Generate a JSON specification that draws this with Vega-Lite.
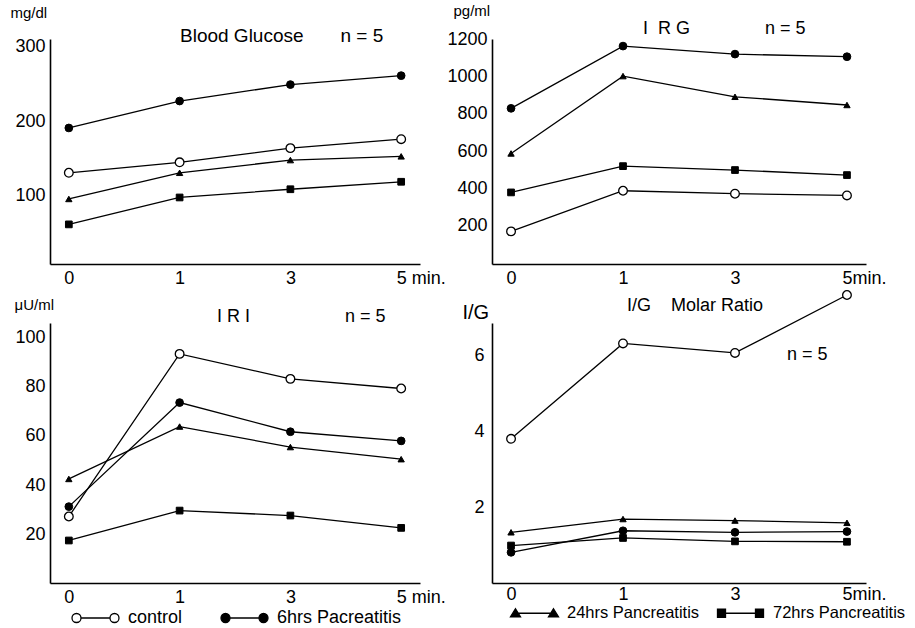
{
  "$schema": "https://vega.github.io/schema/vega-lite/v6.json",
  "background": "white",
  "padding": {"left": 10, "top": 3, "right": 5, "bottom": 5},
  "config": {
    "font": "Liberation Sans",
    "view": {"stroke": null},
    "axis": {"domainColor": "black", "domainWidth": 1.6, "ticks": false, "grid": false, "labelColor": "black", "labelFontSize": 18, "labelFont": "Liberation Sans", "titleFont": "Liberation Sans", "titleFontWeight": "normal", "titleColor": "black", "labelFlush": false, "labelOverlap": false},
    "title": {"font": "Liberation Sans", "fontWeight": "normal", "color": "black", "fontSize": 18, "anchor": "start", "frame": "group", "baseline": "alphabetic", "subtitleFont": "Liberation Sans", "subtitleFontSize": 18, "subtitleColor": "black"},
    "legend": {"labelFont": "Liberation Sans", "labelFontSize": 18, "labelColor": "black", "symbolSize": 400, "symbolStrokeColor": "black", "symbolStrokeWidth": 1.3, "labelLimit": 300, "title": null}
  },
  "datasets": {
    "d": [
      {"panel": "glucose", "series": "control", "time": "0", "value": 131},
      {"panel": "glucose", "series": "control", "time": "1", "value": 145},
      {"panel": "glucose", "series": "control", "time": "3", "value": 164},
      {"panel": "glucose", "series": "control", "time": "5", "value": 176},
      {"panel": "glucose", "series": "6hrs Pacreatitis", "time": "0", "value": 191},
      {"panel": "glucose", "series": "6hrs Pacreatitis", "time": "1", "value": 227},
      {"panel": "glucose", "series": "6hrs Pacreatitis", "time": "3", "value": 249},
      {"panel": "glucose", "series": "6hrs Pacreatitis", "time": "5", "value": 261},
      {"panel": "glucose", "series": "24hrs Pancreatitis", "time": "0", "value": 96},
      {"panel": "glucose", "series": "24hrs Pancreatitis", "time": "1", "value": 131},
      {"panel": "glucose", "series": "24hrs Pancreatitis", "time": "3", "value": 148},
      {"panel": "glucose", "series": "24hrs Pancreatitis", "time": "5", "value": 153},
      {"panel": "glucose", "series": "72hrs Pancreatitis", "time": "0", "value": 62},
      {"panel": "glucose", "series": "72hrs Pancreatitis", "time": "1", "value": 98},
      {"panel": "glucose", "series": "72hrs Pancreatitis", "time": "3", "value": 109},
      {"panel": "glucose", "series": "72hrs Pancreatitis", "time": "5", "value": 119},
      {"panel": "IRG", "series": "control", "time": "0", "value": 170},
      {"panel": "IRG", "series": "control", "time": "1", "value": 388},
      {"panel": "IRG", "series": "control", "time": "3", "value": 372},
      {"panel": "IRG", "series": "control", "time": "5", "value": 363},
      {"panel": "IRG", "series": "6hrs Pacreatitis", "time": "0", "value": 830},
      {"panel": "IRG", "series": "6hrs Pacreatitis", "time": "1", "value": 1164},
      {"panel": "IRG", "series": "6hrs Pacreatitis", "time": "3", "value": 1121},
      {"panel": "IRG", "series": "6hrs Pacreatitis", "time": "5", "value": 1107},
      {"panel": "IRG", "series": "24hrs Pancreatitis", "time": "0", "value": 588},
      {"panel": "IRG", "series": "24hrs Pancreatitis", "time": "1", "value": 1003},
      {"panel": "IRG", "series": "24hrs Pancreatitis", "time": "3", "value": 892},
      {"panel": "IRG", "series": "24hrs Pancreatitis", "time": "5", "value": 848},
      {"panel": "IRG", "series": "72hrs Pancreatitis", "time": "0", "value": 379},
      {"panel": "IRG", "series": "72hrs Pancreatitis", "time": "1", "value": 520},
      {"panel": "IRG", "series": "72hrs Pancreatitis", "time": "3", "value": 499},
      {"panel": "IRG", "series": "72hrs Pancreatitis", "time": "5", "value": 472},
      {"panel": "IRI", "series": "control", "time": "0", "value": 27.4},
      {"panel": "IRI", "series": "control", "time": "1", "value": 93.2},
      {"panel": "IRI", "series": "control", "time": "3", "value": 83.1},
      {"panel": "IRI", "series": "control", "time": "5", "value": 79.2},
      {"panel": "IRI", "series": "6hrs Pacreatitis", "time": "0", "value": 31.4},
      {"panel": "IRI", "series": "6hrs Pacreatitis", "time": "1", "value": 73.5},
      {"panel": "IRI", "series": "6hrs Pacreatitis", "time": "3", "value": 61.7},
      {"panel": "IRI", "series": "6hrs Pacreatitis", "time": "5", "value": 58.0},
      {"panel": "IRI", "series": "24hrs Pancreatitis", "time": "0", "value": 42.6},
      {"panel": "IRI", "series": "24hrs Pancreatitis", "time": "1", "value": 63.8},
      {"panel": "IRI", "series": "24hrs Pancreatitis", "time": "3", "value": 55.5},
      {"panel": "IRI", "series": "24hrs Pancreatitis", "time": "5", "value": 50.6},
      {"panel": "IRI", "series": "72hrs Pancreatitis", "time": "0", "value": 17.7},
      {"panel": "IRI", "series": "72hrs Pancreatitis", "time": "1", "value": 29.8},
      {"panel": "IRI", "series": "72hrs Pancreatitis", "time": "3", "value": 27.8},
      {"panel": "IRI", "series": "72hrs Pancreatitis", "time": "5", "value": 22.8},
      {"panel": "IG", "series": "control", "time": "0", "value": 3.81},
      {"panel": "IG", "series": "control", "time": "1", "value": 6.33},
      {"panel": "IG", "series": "control", "time": "3", "value": 6.08},
      {"panel": "IG", "series": "control", "time": "5", "value": 7.61},
      {"panel": "IG", "series": "6hrs Pacreatitis", "time": "0", "value": 0.81},
      {"panel": "IG", "series": "6hrs Pacreatitis", "time": "1", "value": 1.38},
      {"panel": "IG", "series": "6hrs Pacreatitis", "time": "3", "value": 1.34},
      {"panel": "IG", "series": "6hrs Pacreatitis", "time": "5", "value": 1.36},
      {"panel": "IG", "series": "24hrs Pancreatitis", "time": "0", "value": 1.34},
      {"panel": "IG", "series": "24hrs Pancreatitis", "time": "1", "value": 1.69},
      {"panel": "IG", "series": "24hrs Pancreatitis", "time": "3", "value": 1.65},
      {"panel": "IG", "series": "24hrs Pancreatitis", "time": "5", "value": 1.59},
      {"panel": "IG", "series": "72hrs Pancreatitis", "time": "0", "value": 0.99},
      {"panel": "IG", "series": "72hrs Pancreatitis", "time": "1", "value": 1.19},
      {"panel": "IG", "series": "72hrs Pancreatitis", "time": "3", "value": 1.10},
      {"panel": "IG", "series": "72hrs Pancreatitis", "time": "5", "value": 1.09}
    ]
  },
  "columns": 2,
  "spacing": {"row": 59, "column": 72},
  "bounds": "flush",
  "resolve": {"scale": {"shape": "independent", "fill": "independent", "stroke": "independent"}, "legend": {"shape": "independent", "fill": "independent", "stroke": "independent"}},
  "concat": [
    {
      "width": 370, "height": 225,
      "data": {"name": "d"},
      "transform": [{"filter": "datum.panel == 'glucose'"}],
      "title": {"text": "Blood Glucose\u00a0\u00a0\u00a0\u00a0\u00a0\u00a0\u00a0n = 5", "fontSize": 19, "dx": 130, "offset": -40.7},
      "encoding": {
        "x": {"field": "time", "type": "ordinal", "scale": {"type": "point", "domain": ["0", "1", "3", "5"], "padding": 0.17},
          "axis": {"title": null, "labelAngle": 0, "labelPadding": 5, "labelExpr": "datum.value == '5' ? '5 min.' : datum.label", "labelAlign": {"condition": {"test": "datum.value == '5'", "value": "left"}, "value": "center"}, "labelOffset": {"condition": {"test": "datum.value == '5'", "value": -5}, "value": 0}}},
        "y": {"field": "value", "type": "quantitative", "scale": {"domain": [9, 310], "zero": false, "nice": false},
          "axis": {"values": [100, 200, 300], "format": "d", "title": "mg/dl", "titleAngle": 0, "titleAlign": "left", "titleBaseline": "top", "titleX": -40, "titleY": -34, "titleFontSize": 15, "labelPadding": 5}}
      },
      "layer": [
        {"mark": {"type": "line", "color": "black", "strokeWidth": 1.3}, "encoding": {"detail": {"field": "series"}}},
        {"transform": [{"filter": "datum.series == 'control'"}], "mark": {"type": "point", "shape": "circle", "filled": true, "fill": "white", "stroke": "black", "strokeWidth": 1.3, "size": 75, "opacity": 1}},
        {"transform": [{"filter": "datum.series == '6hrs Pacreatitis'"}], "mark": {"type": "point", "shape": "circle", "filled": true, "fill": "black", "stroke": "black", "strokeWidth": 1, "size": 60, "opacity": 1}},
        {"transform": [{"filter": "datum.series == '24hrs Pancreatitis'"}], "mark": {"type": "point", "shape": "triangle-up", "filled": true, "fill": "black", "stroke": "black", "strokeWidth": 1, "size": 40, "opacity": 1}},
        {"transform": [{"filter": "datum.series == '72hrs Pancreatitis'"}], "mark": {"type": "point", "shape": "square", "filled": true, "fill": "black", "stroke": "black", "strokeWidth": 1, "size": 45, "opacity": 1}}
      ]
    },
    {
      "width": 374, "height": 225,
      "data": {"name": "d"},
      "transform": [{"filter": "datum.panel == 'IRG'"}],
      "title": {"text": "I\u00a0\u00a0R\u00a0G\u00a0\u00a0\u00a0\u00a0\u00a0\u00a0\u00a0\u00a0\u00a0\u00a0\u00a0\u00a0\u00a0\u00a0\u00a0n = 5", "dx": 151, "offset": -35.3},
      "encoding": {
        "x": {"field": "time", "type": "ordinal", "scale": {"type": "point", "domain": ["0", "1", "3", "5"], "padding": 0.17},
          "axis": {"title": null, "labelAngle": 0, "labelPadding": 5, "labelExpr": "datum.value == '5' ? '5min.' : datum.label", "labelAlign": {"condition": {"test": "datum.value == '5'", "value": "left"}, "value": "center"}, "labelOffset": {"condition": {"test": "datum.value == '5'", "value": -5}, "value": 0}}},
        "y": {"field": "value", "type": "quantitative", "scale": {"domain": [-5, 1202], "zero": false, "nice": false},
          "axis": {"values": [200, 400, 600, 800, 1000, 1200], "format": "d", "title": "pg/ml", "titleAngle": 0, "titleAlign": "left", "titleBaseline": "top", "titleX": -39, "titleY": -36, "titleFontSize": 15, "labelPadding": 5}}
      },
      "layer": [
        {"mark": {"type": "line", "color": "black", "strokeWidth": 1.3}, "encoding": {"detail": {"field": "series"}}},
        {"transform": [{"filter": "datum.series == 'control'"}], "mark": {"type": "point", "shape": "circle", "filled": true, "fill": "white", "stroke": "black", "strokeWidth": 1.3, "size": 75, "opacity": 1}},
        {"transform": [{"filter": "datum.series == '6hrs Pacreatitis'"}], "mark": {"type": "point", "shape": "circle", "filled": true, "fill": "black", "stroke": "black", "strokeWidth": 1, "size": 60, "opacity": 1}},
        {"transform": [{"filter": "datum.series == '24hrs Pancreatitis'"}], "mark": {"type": "point", "shape": "triangle-up", "filled": true, "fill": "black", "stroke": "black", "strokeWidth": 1, "size": 40, "opacity": 1}},
        {"transform": [{"filter": "datum.series == '72hrs Pancreatitis'"}], "mark": {"type": "point", "shape": "square", "filled": true, "fill": "black", "stroke": "black", "strokeWidth": 1, "size": 45, "opacity": 1}}
      ]
    },
    {
      "width": 370, "height": 260,
      "data": {"name": "d"},
      "transform": [{"filter": "datum.panel == 'IRI'"}],
      "title": {"text": "I\u00a0R\u00a0I\u00a0\u00a0\u00a0\u00a0\u00a0\u00a0\u00a0\u00a0\u00a0\u00a0\u00a0\u00a0\u00a0\u00a0\u00a0\u00a0\u00a0\u00a0\u00a0n = 5", "dx": 167, "offset": -28.7},
      "encoding": {
        "x": {"field": "time", "type": "ordinal", "scale": {"type": "point", "domain": ["0", "1", "3", "5"], "padding": 0.17},
          "axis": {"title": null, "labelAngle": 0, "labelPadding": 5, "labelExpr": "datum.value == '5' ? '5 min.' : datum.label", "labelAlign": {"condition": {"test": "datum.value == '5'", "value": "left"}, "value": "center"}, "labelOffset": {"condition": {"test": "datum.value == '5'", "value": -5}, "value": 0}}},
        "y": {"field": "value", "type": "quantitative", "scale": {"domain": [0.5, 105.7], "zero": false, "nice": false},
          "axis": {"values": [20, 40, 60, 80, 100], "title": "μU/ml", "titleAngle": 0, "titleAlign": "left", "titleBaseline": "top", "titleX": -36, "titleY": -26, "titleFontSize": 15, "labelPadding": 5}}
      },
      "layer": [
        {"mark": {"type": "line", "color": "black", "strokeWidth": 1.3}, "encoding": {"detail": {"field": "series"}}},
        {"transform": [{"filter": "datum.series == 'control'"}], "mark": {"type": "point", "shape": "circle", "filled": true, "fill": "white", "stroke": "black", "strokeWidth": 1.3, "size": 75, "opacity": 1}},
        {"transform": [{"filter": "datum.series == '6hrs Pacreatitis'"}], "mark": {"type": "point", "shape": "circle", "filled": true, "fill": "black", "stroke": "black", "strokeWidth": 1, "size": 60, "opacity": 1}},
        {"transform": [{"filter": "datum.series == '24hrs Pancreatitis'"}], "mark": {"type": "point", "shape": "triangle-up", "filled": true, "fill": "black", "stroke": "black", "strokeWidth": 1, "size": 40, "opacity": 1}},
        {"transform": [{"filter": "datum.series == '72hrs Pancreatitis'"}], "mark": {"type": "point", "shape": "square", "filled": true, "fill": "black", "stroke": "black", "strokeWidth": 1, "size": 45, "opacity": 1}},
        {"transform": [{"filter": "datum.series == 'legend only'"}],
         "mark": {"type": "point", "filled": true, "opacity": 1, "strokeWidth": 1.3},
         "encoding": {
           "shape": {"field": "series", "type": "nominal", "scale": {"domain": ["control", "6hrs Pacreatitis"], "range": ["M-0.1,0L2.8,0M-1,0a0.45,0.45 0 1,0 0.9,0a0.45,0.45 0 1,0 -0.9,0M2.8,0a0.45,0.45 0 1,0 0.9,0a0.45,0.45 0 1,0 -0.9,0", "M-0.1,0L2.8,0M-1,0a0.45,0.45 0 1,0 0.9,0a0.45,0.45 0 1,0 -0.9,0M2.8,0a0.45,0.45 0 1,0 0.9,0a0.45,0.45 0 1,0 -0.9,0"]},
             "legend": {"orient": "none", "direction": "horizontal", "legendX": 21, "legendY": 284, "labelOffset": 35, "columnPadding": 35, "symbolStrokeWidth": 1.3}},
           "fill": {"field": "series", "type": "nominal", "scale": {"domain": ["control", "6hrs Pacreatitis"], "range": ["white", "black"]},
             "legend": {"orient": "none", "direction": "horizontal", "legendX": 21, "legendY": 284, "labelOffset": 35, "columnPadding": 35, "symbolStrokeWidth": 1.3}},
           "stroke": {"field": "series", "type": "nominal", "scale": {"domain": ["control", "6hrs Pacreatitis"], "range": ["black", "black"]},
             "legend": {"orient": "none", "direction": "horizontal", "legendX": 21, "legendY": 284, "labelOffset": 35, "columnPadding": 35, "symbolStrokeWidth": 1.3}}
         }}
      ]
    },
    {
      "width": 374, "height": 260,
      "data": {"name": "d"},
      "transform": [{"filter": "datum.panel == 'IG'"}],
      "title": {"text": "I/G\u00a0\u00a0\u00a0\u00a0Molar Ratio", "subtitle": "\u200b\u00a0\u00a0\u00a0\u00a0\u00a0\u00a0\u00a0\u00a0\u00a0\u00a0\u00a0\u00a0\u00a0\u00a0\u00a0\u00a0\u00a0\u00a0\u00a0\u00a0\u00a0\u00a0\u00a0\u00a0\u00a0\u00a0\u00a0\u00a0\u00a0\u00a0\u00a0\u00a0n = 5", "subtitlePadding": 31, "dx": 135, "offset": -76},
      "encoding": {
        "x": {"field": "time", "type": "ordinal", "scale": {"type": "point", "domain": ["0", "1", "3", "5"], "padding": 0.17},
          "axis": {"title": null, "labelAngle": 0, "labelPadding": 2, "labelExpr": "datum.value == '5' ? '5min.' : datum.label", "labelAlign": {"condition": {"test": "datum.value == '5'", "value": "left"}, "value": "center"}, "labelOffset": {"condition": {"test": "datum.value == '5'", "value": -5}, "value": 0}}},
        "y": {"field": "value", "type": "quantitative", "scale": {"domain": [0, 6.87], "zero": false, "nice": false},
          "axis": {"values": [2, 4, 6], "title": "I/G", "titleAngle": 0, "titleAlign": "left", "titleBaseline": "top", "titleX": -30, "titleY": -21, "titleFontSize": 20, "labelPadding": 8}}
      },
      "layer": [
        {"mark": {"type": "line", "color": "black", "strokeWidth": 1.3}, "encoding": {"detail": {"field": "series"}}},
        {"transform": [{"filter": "datum.series == 'control'"}], "mark": {"type": "point", "shape": "circle", "filled": true, "fill": "white", "stroke": "black", "strokeWidth": 1.3, "size": 75, "opacity": 1}},
        {"transform": [{"filter": "datum.series == '6hrs Pacreatitis'"}], "mark": {"type": "point", "shape": "circle", "filled": true, "fill": "black", "stroke": "black", "strokeWidth": 1, "size": 60, "opacity": 1}},
        {"transform": [{"filter": "datum.series == '24hrs Pancreatitis'"}], "mark": {"type": "point", "shape": "triangle-up", "filled": true, "fill": "black", "stroke": "black", "strokeWidth": 1, "size": 40, "opacity": 1}},
        {"transform": [{"filter": "datum.series == '72hrs Pancreatitis'"}], "mark": {"type": "point", "shape": "square", "filled": true, "fill": "black", "stroke": "black", "strokeWidth": 1, "size": 45, "opacity": 1}},
        {"transform": [{"filter": "datum.series == 'legend only'"}],
         "mark": {"type": "point", "filled": true, "opacity": 1, "strokeWidth": 1.3},
         "encoding": {
           "shape": {"field": "series", "type": "nominal", "scale": {"domain": ["24hrs Pancreatitis", "72hrs Pancreatitis"], "range": ["M-0.55,0L3.25,0M-0.55,-0.45L-0.05,0.35L-1.05,0.35ZM3.25,-0.45L3.75,0.35L2.75,0.35Z", "M-0.55,0L3.25,0M-0.95,-0.4h0.8v0.8h-0.8ZM2.85,-0.4h0.8v0.8h-0.8Z"]},
             "legend": {"orient": "none", "direction": "horizontal", "legendX": 18, "legendY": 279, "labelOffset": 35, "columnPadding": 14, "labelFontSize": 16.5, "symbolStrokeWidth": 1.3}},
           "fill": {"field": "series", "type": "nominal", "scale": {"domain": ["24hrs Pancreatitis", "72hrs Pancreatitis"], "range": ["black", "black"]},
             "legend": {"orient": "none", "direction": "horizontal", "legendX": 18, "legendY": 279, "labelOffset": 35, "columnPadding": 14, "labelFontSize": 16.5, "symbolStrokeWidth": 1.3}},
           "stroke": {"field": "series", "type": "nominal", "scale": {"domain": ["24hrs Pancreatitis", "72hrs Pancreatitis"], "range": ["black", "black"]},
             "legend": {"orient": "none", "direction": "horizontal", "legendX": 18, "legendY": 279, "labelOffset": 35, "columnPadding": 14, "labelFontSize": 16.5, "symbolStrokeWidth": 1.3}}
         }}
      ]
    }
  ]
}
